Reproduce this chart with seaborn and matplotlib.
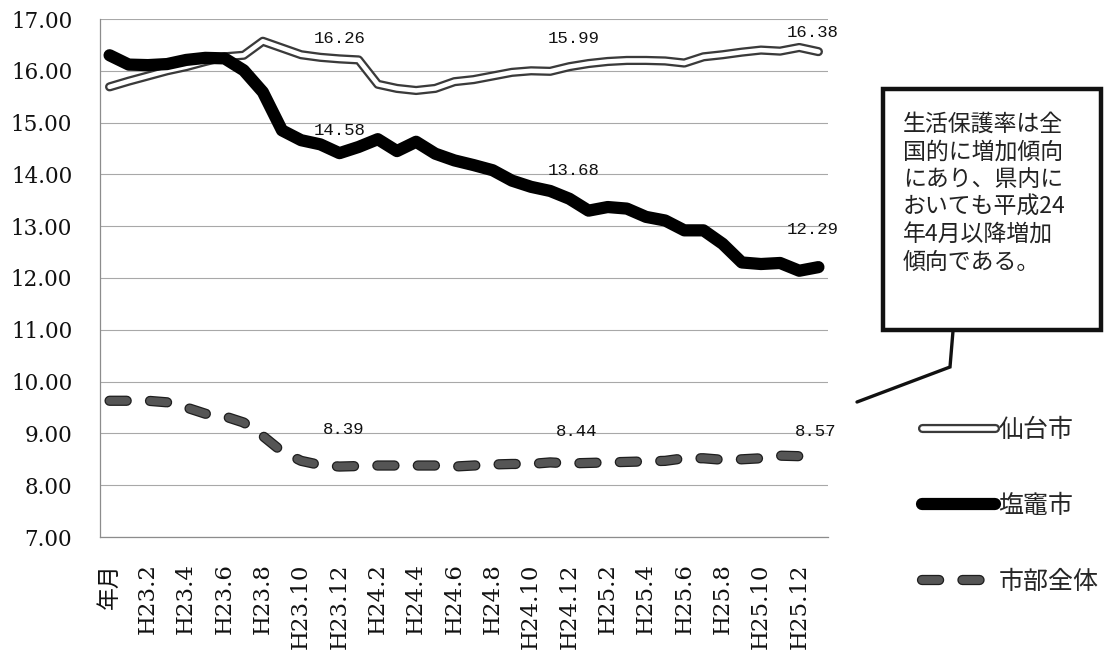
import numpy as np
import pandas as pd
import matplotlib
matplotlib.use("Agg")
import matplotlib.pyplot as plt
import matplotlib.patheffects as pe
from matplotlib.patches import Rectangle
from matplotlib.lines import Line2D
import seaborn as sns

# ---- data -------------------------------------------------------------
months = ["年月"] + [f"H23.{m}" for m in range(1, 13)] + \
         [f"H24.{m}" for m in range(1, 13)] + \
         [f"H25.{m}" for m in range(1, 13)] + ["H26.1"]

sendai = [15.69, 15.80, 15.90, 16.00, 16.08, 16.18, 16.27, 16.30, 16.57, 16.44,
          16.31, 16.26, 16.23, 16.21, 15.74, 15.66, 15.62, 15.66, 15.79, 15.83,
          15.90, 15.97, 16.00, 15.99, 16.08, 16.14, 16.18, 16.20, 16.20, 16.19,
          16.15, 16.27, 16.31, 16.36, 16.40, 16.38, 16.45, 16.37]

shiogama = [16.30, 16.12, 16.11, 16.13, 16.21, 16.25, 16.24, 16.01, 15.59, 14.85,
            14.66, 14.58, 14.41, 14.53, 14.68, 14.45, 14.63, 14.40, 14.27, 14.18,
            14.08, 13.88, 13.76, 13.68, 13.53, 13.30, 13.37, 13.34, 13.18, 13.11,
            12.92, 12.92, 12.66, 12.30, 12.27, 12.29, 12.14, 12.21]

city_total = [9.63, 9.63, 9.63, 9.60, 9.50, 9.38, 9.33, 9.21, 8.95, 8.65,
              8.47, 8.39, 8.36, 8.37, 8.38, 8.38, 8.38, 8.38, 8.36, 8.38,
              8.40, 8.41, 8.41, 8.44, 8.42, 8.43, 8.44, 8.45, 8.46, 8.47,
              8.52, 8.52, 8.49, 8.50, 8.52, 8.57, 8.56, 8.60]

series_names = ["仙台市", "塩竈市", "市部全体"]
labelled_points = [11, 23, 35]          # points carrying a value label
yticks = np.arange(7, 18, 1)

note = "生活保護率は全\n国的に増加傾向\nにあり、県内に\nおいても平成24\n年4月以降増加\n傾向である。"

# ---- figure -----------------------------------------------------------
sns.set_theme(style="white")
plt.rcParams["font.family"] = ["DejaVu Serif", "Noto Sans CJK JP"]

W, H = 1115, 651
fig = plt.figure(figsize=(W / 100, H / 100), dpi=100)
fig.patch.set_facecolor("white")
ax = fig.add_axes([100 / W, 1 - 537 / H, 728 / W, 518 / H])

df = pd.DataFrame({"month": months, series_names[0]: sendai,
                   series_names[1]: shiogama, series_names[2]: city_total})

# 仙台市: hollow double line
sns.lineplot(data=df, x="month", y=series_names[0], sort=False, ax=ax,
             color="white", lw=3.3, label=series_names[0],
             solid_capstyle="round", solid_joinstyle="round")
# 塩竈市: heavy black line
sns.lineplot(data=df, x="month", y=series_names[1], sort=False, ax=ax,
             color="black", lw=8.8, label=series_names[1],
             solid_capstyle="round", solid_joinstyle="round")
# 市部全体: heavy dashed grey line
sns.lineplot(data=df, x="month", y=series_names[2], sort=False, ax=ax,
             color="#555555", lw=5.6, label=series_names[2],
             dash_capstyle="round")

l_sendai, l_shio, l_total = ax.get_lines()[:3]
l_sendai.set_path_effects([pe.Stroke(linewidth=6.6, foreground="#3a3a3a"),
                           pe.Normal()])
l_total.set_linestyle((0, (2.2, 3.0)))
l_total.set_path_effects([pe.Stroke(linewidth=7.4, foreground="#1e1e1e"),
                          pe.Normal()])
l_sendai.set_zorder(3)
l_shio.set_zorder(4)
l_total.set_zorder(3)

# value labels
label_offsets = {
    0: [(19, 19), (23, 33), (33, 19)],
    1: [(19, 14), (23, 20), (33, 33)],
    2: [(23, 35), (26, 31), (36, 24)],
}
for s, vals in enumerate([sendai, shiogama, city_total]):
    for k, i in enumerate(labelled_points):
        dx, dy = label_offsets[s][k]
        ax.annotate(f"{vals[i]:.2f}", xy=(i, vals[i]), xytext=(dx, dy),
                    textcoords="offset pixels", ha="center", va="center",
                    fontsize=12.5, family="Liberation Mono", color="#111111",
                    zorder=6)

# axes
ax.set_xlim(-0.5, len(months) - 0.5)
ax.set_ylim(7, 17)
ax.set_yticks(yticks)
ax.set_yticklabels([f"{v:.2f}" for v in yticks])
ax.set_xticks(range(0, len(months), 2))
ax.set_xticklabels(months[::2], rotation=90, va="top", ha="center")
ax.set_xticks(np.arange(-0.5, len(months), 1), minor=True)
ax.set_xlabel("")
ax.set_ylabel("")

ax.grid(axis="y", color="#a8a8a8", lw=0.8)
ax.set_axisbelow(True)
for side in ["top", "right"]:
    ax.spines[side].set_visible(False)
for side in ["left", "bottom"]:
    ax.spines[side].set_color("#8c8c8c")
    ax.spines[side].set_linewidth(0.9)

ax.tick_params(axis="y", which="both", length=0, pad=20, labelsize=15.5,
               labelcolor="#111111")
ax.tick_params(axis="x", which="major", length=0, pad=19, labelsize=16.5,
               labelcolor="#111111")
ax.tick_params(axis="x", which="minor", length=5, width=0.8,
               color="#8c8c8c", direction="out")
for t in ax.get_xticklabels() + ax.get_yticklabels():
    t.set_fontfamily(["DejaVu Serif", "Noto Sans CJK JP"])

# legend on the right
leg = ax.legend(loc="upper left", bbox_to_anchor=(922 / W, 1 - 417 / H),
                bbox_transform=fig.transFigure, frameon=False,
                handlelength=2.9, handletextpad=0.15, labelspacing=2.0,
                borderpad=0, borderaxespad=0,
                prop={"family": "Noto Sans CJK JP", "size": 18})

# callout box with note
box = Rectangle((883 / W, 1 - 330 / H), 218 / W, 241 / H,
                transform=fig.transFigure, fill=True, facecolor="white",
                edgecolor="#111111", lw=3.2, zorder=5)
fig.add_artist(box)
fig.text(903 / W, 1 - 113 / H, note, transform=fig.transFigure,
         ha="left", va="top", fontsize=16.5, linespacing=1.26,
         family="Noto Sans CJK JP", color="#222222", zorder=6)
fig.add_artist(Line2D([953 / W, 950 / W, 857 / W],
                      [1 - 331 / H, 1 - 367 / H, 1 - 402 / H],
                      transform=fig.transFigure, color="#111111", lw=2.4,
                      solid_joinstyle="miter"))

fig.savefig("out.png", dpi=100, facecolor="white")
